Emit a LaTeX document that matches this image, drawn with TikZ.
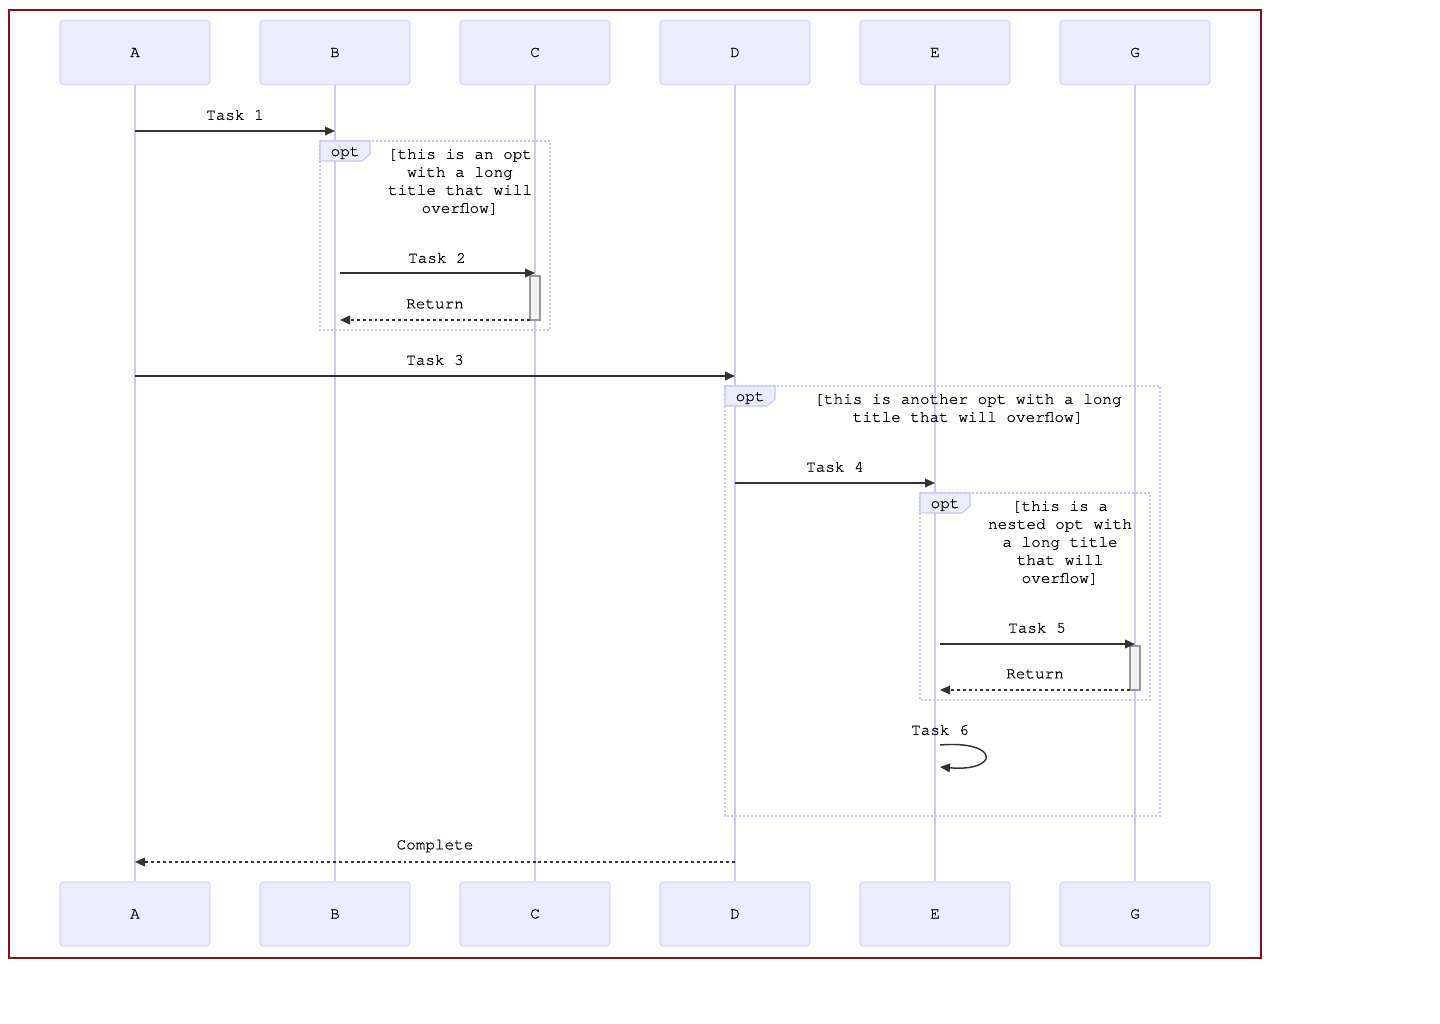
\documentclass[tikz,border=0pt]{standalone}
\usepackage{fontspec}
\setmonofont[FakeBold=0.7]{TeX Gyre Cursor}
\usetikzlibrary{arrows.meta}
\definecolor{actfill}{HTML}{ECECFF}
\definecolor{actdraw}{HTML}{D9D7F5}
\definecolor{lifeline}{HTML}{D0C9EE}
\definecolor{msgcol}{HTML}{333333}
\definecolor{frame}{HTML}{7F1515}
\definecolor{optdraw}{HTML}{C8C6EC}
\tikzset{
  actor/.style={draw=actdraw, fill=actfill, line width=0.9pt, rounded corners=2.5pt, minimum width=112.5pt, minimum height=48pt, inner sep=0pt, font=\ttfamily\fontsize{12}{13.5}\selectfont},
  life/.style={draw=lifeline, line width=1.3pt},
  msg/.style={draw=msgcol, line width=1.1pt, -{Triangle[length=7.5pt,width=6.5pt]}},
  ret/.style={draw=msgcol, line width=1.1pt, dash pattern=on 2.2pt off 2.2pt, -{Triangle[length=7.5pt,width=6.5pt]}},
  lbl/.style={font=\ttfamily\fontsize{12}{13.5}\selectfont, text=black, inner sep=0pt, align=center},
  optbox/.style={draw=optdraw, line width=1.1pt, dash pattern=on 1.5pt off 1.5pt},
  opttab/.style={draw=optdraw, fill=actfill, line width=0.8pt},
  actv/.style={draw=gray!80, fill=gray!10, line width=0.9pt},
}
\begin{document}
\begin{tikzpicture}[x=0.75pt,y=-0.75pt]
\useasboundingbox (0,0) rectangle (1440,1024);
\draw[frame, line width=1.5pt] (9,10) rectangle (1261,958);
% actors
\foreach \n/\x in {A/135,B/335,C/535,D/735,E/935,G/1135}{
  \node[actor] (\n) at (\x,52.5) {\n};
  \node[actor] (\n b) at (\x,914) {\n};
}
\foreach \n in {A,B,C,D,E,G}{ \draw[life] (\n.south) -- (\n b.north); }
% opt frames
\draw[optbox] (320,141) rectangle (550,330);
\draw[opttab] (320,141) -- (370,141) -- (370,154) -- (362,161) -- (320,161) -- cycle;
\node[lbl] (o1) at (345,153) {opt};
\node[lbl] (o1t) at (460,182) {[this is an opt\\with a long\\title that will\\overflow]};
\draw[optbox] (725,386) rectangle (1160,816);
\draw[opttab] (725,386) -- (775,386) -- (775,399) -- (767,406) -- (725,406) -- cycle;
\node[lbl] (o2) at (750,398) {opt};
\node[lbl] (o2t) at (968,409) {[this is another opt with a long\\title that will overflow]};
\draw[optbox] (920,493) rectangle (1150,700);
\draw[opttab] (920,493) -- (970,493) -- (970,506) -- (962,513) -- (920,513) -- cycle;
\node[lbl] (o3) at (945,505) {opt};
\node[lbl] (o3t) at (1060,543) {[this is a\\nested opt with\\a long title\\that will\\overflow]};
% activations
\draw[actv] (530,276) rectangle (540,320);
\draw[actv] (1130,646) rectangle (1140,690);
% message coordinates
\coordinate (m1a) at (135,131); \coordinate (m1b) at (335,131);
\coordinate (m2a) at (340,273); \coordinate (m2b) at (535,273);
\coordinate (r1a) at (530,320); \coordinate (r1b) at (340,320);
\coordinate (m3a) at (135,376); \coordinate (m3b) at (735,376);
\coordinate (m4a) at (735,483); \coordinate (m4b) at (935,483);
\coordinate (m5a) at (940,644); \coordinate (m5b) at (1135,644);
\coordinate (r2a) at (1130,690); \coordinate (r2b) at (940,690);
\coordinate (s6a) at (940,745); \coordinate (s6b) at (940,767);
\coordinate (cpa) at (735,862); \coordinate (cpb) at (135,862);
% messages
\draw[msg] (m1a) -- (m1b); \node[lbl] (l1) at (235,115) {Task 1};
\draw[msg] (m2a) -- (m2b); \node[lbl] (l2) at (437,258) {Task 2};
\draw[ret] (r1a) -- (r1b); \node[lbl] (l3) at (435,304) {Return};
\draw[msg] (m3a) -- (m3b); \node[lbl] (l4) at (435,360) {Task 3};
\draw[msg] (m4a) -- (m4b); \node[lbl] (l5) at (835,467) {Task 4};
\draw[msg] (m5a) -- (m5b); \node[lbl] (l6) at (1037,628) {Task 5};
\draw[ret] (r2a) -- (r2b); \node[lbl] (l7) at (1035,674) {Return};
\draw[msg] (s6a) .. controls (1000,740) and (1000,772) .. (s6b); \node[lbl] (l8) at (940,730) {Task 6};
\draw[ret] (cpa) -- (cpb); \node[lbl] (l9) at (435,846) {Complete};
\end{tikzpicture}
\end{document}
